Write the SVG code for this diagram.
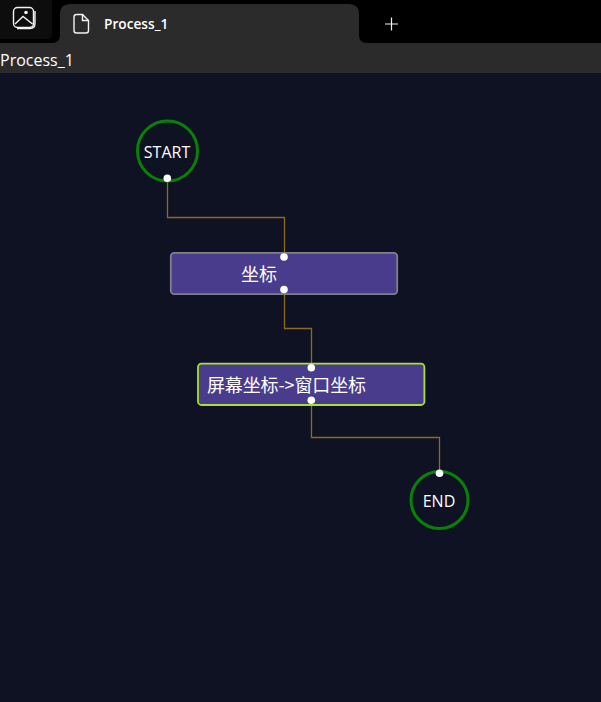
<svg xmlns="http://www.w3.org/2000/svg" width="601" height="702" viewBox="0 0 601 702">
<style>
text{fill:#fff;font-family:"Open Sans","Noto Sans CJK SC",sans-serif}
.cjk{font-family:"Noto Sans CJK SC","Noto Sans",sans-serif;font-size:18px}
.c{fill:none;stroke:#8f6a18;stroke-width:1.300}
.p{fill:#fff}
.ci{fill:none;stroke:#078107;stroke-width:3}
.n{fill:#4a3c8c;stroke-width:1.800}
.ic{fill:none;stroke:#f2f2f2;stroke-width:1.400}
</style>
<rect width="601" height="702" fill="#0e1223"/>
<g id="chrome">
<rect width="601" height="43" fill="#000"/>
<rect y="43" width="601" height="30" fill="#2b2b2b"/>
<path d="M0 0H52V34Q52 39 47 39H0Z" fill="#0d0d0d"/>
<path d="M52 43Q60 43 60 35V14Q60 4 70 4H349Q359 4 359 14V35Q359 43 367 43Z" fill="#2b2b2b"/>
<rect x="13.500" y="7.500" width="20" height="20" rx="4" class="ic"/>
<path d="M15 24L23 16.500L32.500 24" class="ic"/>
<circle cx="26" cy="12.500" r="1.800" fill="#f2f2f2"/>
<path d="M17 28.500H30Q35 28.500 35 23V11" class="ic"/>
<path d="M74 17Q74 14.500 76.500 14.500H82.500L88.500 20.500V30.500Q88.500 33 86 33H76.500Q74 33 74 30.500Z" class="ic"/>
<path d="M82.500 14.500V20.500H88.500" class="ic"/>
<text x="104" y="29" font-size="13.700" font-weight="600">Process_1</text>
<path d="M391.500 17.500V30.500M385 24H398" stroke="#f2f2f2" stroke-width="1.200"/>
<text x="0" y="66" font-size="16" fill="#e8e8e8">Process_1</text>
</g>
<g id="connectors">
<path class="c" d="M167.500 178V217.500H284.500V257"/>
<path class="c" d="M284.500 289V328.500H311.500V368"/>
<path class="c" d="M311.500 400V437.500H439.500V473"/>
</g>
<g id="start">
<circle class="ci" cx="167.500" cy="151" r="30"/>
<text x="167" y="158" font-size="16" text-anchor="middle">START</text>
<circle class="p" cx="167.300" cy="178.300" r="3.800"/>
</g>
<g id="node1">
<rect class="n" x="170.800" y="252.800" width="226.400" height="41.400" rx="3.500" stroke="#808088"/>
<text class="cjk" x="241" y="281">坐标</text>
<circle class="p" cx="284" cy="257" r="3.800"/>
<circle class="p" cx="284" cy="289.500" r="3.800"/>
</g>
<g id="node2">
<rect class="n" x="198" y="363.700" width="226.400" height="41.300" rx="3.500" stroke="#a6e22e"/>
<text class="cjk" x="207" y="392" textLength="159">屏幕坐标-&gt;窗口坐标</text>
<circle class="p" cx="311.300" cy="367.700" r="3.800"/>
<circle class="p" cx="311.300" cy="400.300" r="3.800"/>
</g>
<g id="end">
<circle class="ci" cx="439.500" cy="500" r="28.500"/>
<text x="439" y="507" font-size="16" text-anchor="middle">END</text>
<circle class="p" cx="439.500" cy="473.300" r="3.800"/>
</g>
</svg>
